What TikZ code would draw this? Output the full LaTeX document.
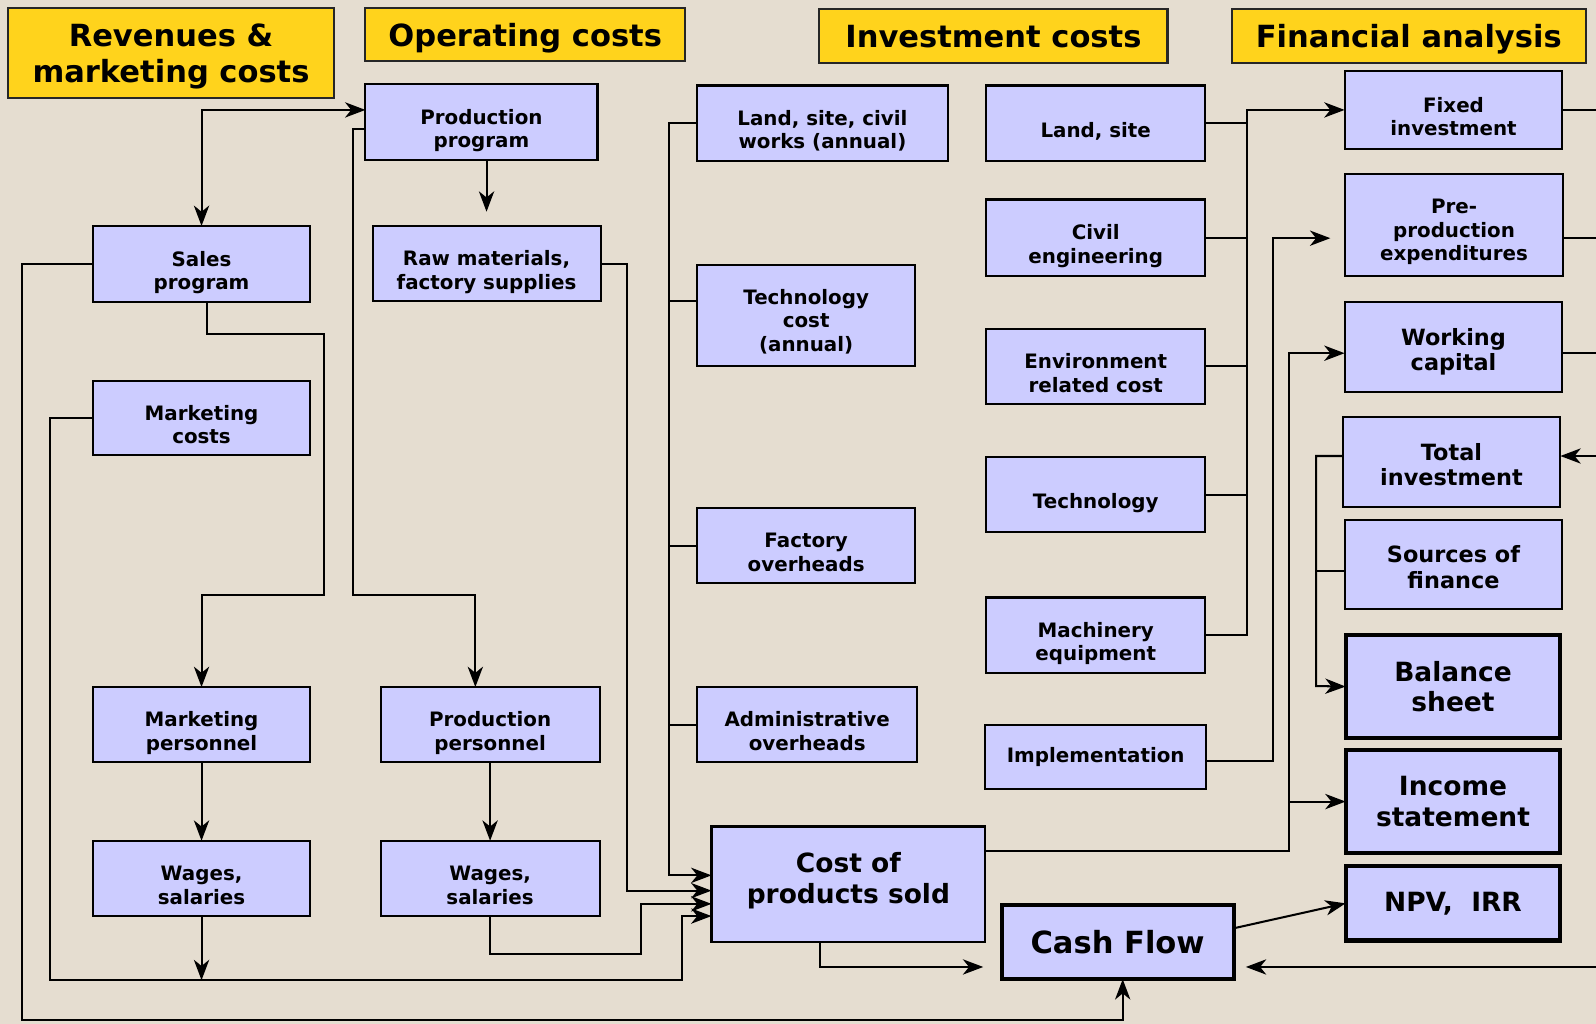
\documentclass[tikz,border=0pt]{standalone}
\usepackage{fontspec}
\setmainfont{DejaVu Sans}
\usetikzlibrary{arrows.meta}

\definecolor{paper}{RGB}{229,221,208}
\definecolor{lilac}{RGB}{204,204,255}
\definecolor{gold}{RGB}{255,211,28}

\tikzset{
  dims/.style 2 args={minimum width=#1pt,minimum height=#2pt},
  plainbox/.style={draw=black,fill=lilac,line width=2pt,inner sep=0pt,outer sep=0pt,align=center,
    font=\fontsize{19.5}{23}\selectfont\bfseries},
  box/.style={plainbox,text height=55pt,text depth=4.6pt},
  oneline/.style={text height=32pt},
  threeline/.style={text height=75pt},
  wide/.style={plainbox,text height=51.5pt,text depth=5pt,font=\fontsize{22}{25}\selectfont\bfseries},
  heavy/.style={plainbox,line width=4pt,font=\fontsize{26}{30}\selectfont\bfseries},
  head/.style={draw=black!85,fill=gold,line width=2pt,inner sep=0pt,outer sep=0pt,align=center,
    text depth=0pt,font=\fontsize{30}{35}\selectfont\bfseries},
  wire/.style={line width=2pt},
  flow/.style={wire,-{Stealth[length=20pt,width=15pt,inset=6pt]}},
  flowboth/.style={wire,{Stealth[length=20pt,width=15pt,inset=6pt]}-{Stealth[length=20pt,width=15pt,inset=6pt]}},
}

\begin{document}
\begin{tikzpicture}[x=1pt,y=-1pt]
  \fill[paper] (0,0) rectangle (1568,1006);
  \useasboundingbox (0,0) rectangle (1568,1006);

  % headings
  \node[head,dims={320}{88}] (hrev) at (168,52) {Revenues \&\\marketing costs};
  \node[head,dims={314}{52}] (hop) at (516,34) {Operating costs};
  \node[head,dims={342}{53}] (hinv) at (976,35.5) {Investment costs};
  \node[head,dims={348}{53}] (hfin) at (1384,35.5) {Financial analysis};

  % revenues and marketing
  \node[box,dims={214}{75}] (sales) at (198,259.5) {Sales\\program};
  \node[box,dims={214}{73}] (mktcost) at (198,410.5) {Marketing\\costs};
  \node[box,dims={214}{74}] (mktpers) at (198,712) {Marketing\\personnel};
  \node[box,dims={214}{74}] (wagesa) at (198,863) {Wages,\\salaries};

  % operating costs
  \node[box,dims={228}{74}] (prodprog) at (473,120) {Production\\program};
  \node[box,dims={224}{74}] (raw) at (478,259) {Raw materials,\\factory supplies};
  \node[box,dims={215}{74}] (prodpers) at (481.5,712) {Production\\personnel};
  \node[box,dims={215}{74}] (wagesb) at (481.5,863) {Wages,\\salaries};
  \node[box,dims={246}{74}] (landciv) at (808,121) {Land, site, civil\\works (annual)};
  \node[box,threeline,dims={214}{100}] (techcost) at (792,310) {Technology\\cost\\(annual)};
  \node[box,dims={214}{74}] (factory) at (792,536) {Factory\\overheads};
  \node[box,dims={216}{74}] (admin) at (793,712) {Administrative\\overheads};
  \node[plainbox,dims={269}{113},text depth=12pt,font=\fontsize{26}{30}\selectfont\bfseries] (cost) at (833.5,868.5) {Cost of\\products sold};

  % investment costs
  \node[box,oneline,dims={215}{74}] (landsite) at (1076.5,121) {Land, site};
  \node[box,dims={215}{75}] (civil) at (1076.5,233.5) {Civil\\engineering};
  \node[box,dims={215}{74}] (env) at (1076.5,360) {Environment\\related cost};
  \node[box,oneline,dims={215}{74}] (tech) at (1076.5,486) {Technology};
  \node[box,dims={215}{74}] (mach) at (1076.5,624) {Machinery\\equipment};
  \node[plainbox,dims={217}{63}] (impl) at (1076.5,743.5) {Implementation};
  \node[heavy,dims={228}{73},font=\fontsize{30}{34}\selectfont\bfseries] (cash) at (1098,925.5) {Cash Flow};

  % financial analysis
  \node[box,dims={214}{76}] (fixed) at (1428,108) {Fixed\\investment};
  \node[box,threeline,dims={215}{100}] (pre) at (1428.5,221) {Pre-\\production\\expenditures};
  \node[wide,dims={214}{88}] (working) at (1428,341) {Working\\capital};
  \node[wide,dims={214}{88}] (totinv) at (1426,454) {Total\\investment};
  \node[wide,dims={214}{87}] (srcfin) at (1428,554.5) {Sources of\\finance};
  \node[heavy,dims={211}{101}] (balance) at (1427.5,674.5) {Balance\\sheet};
  \node[heavy,dims={211}{101}] (income) at (1427.5,787.5) {Income\\statement};
  \node[heavy,dims={211}{73}] (npv) at (1427.5,887.5) {NPV,~~IRR};

  % routing points
  \coordinate (pj) at (347,585);
  \coordinate (sj1) at (318,328);
  \coordinate (sj2) at (318,585);
  \coordinate (sl) at (22,1002);
  \coordinate (ml1) at (49,963);
  \coordinate (ml2) at (670,900);
  \coordinate (wj) at (630,937);
  \coordinate (rj) at (616,875);
  \coordinate (bus3) at (657,860);
  \coordinate (bus4) at (1225,108);
  \coordinate (bus5) at (1251,234);
  \coordinate (bus6) at (1266,347);
  \coordinate (bus7) at (1293,674);
  \coordinate (ea) at (1568,448);
  \coordinate (eb) at (1568,950);

  % left part
  \draw[flowboth] (sales.north) |- ([yshift=12pt]prodprog.west);
  \draw[flow,shorten >=14pt] (raw.north |- prodprog.south) -- (raw.north);
  \draw[flow] ([yshift=-7pt]prodprog.west) -| (pj) -| ([xshift=-14.5pt]prodpers.north);
  \draw[flow] ([xshift=5pt]sales.south) |- (sj1) -- (sj2) -| (mktpers.north);
  \draw[flow] (sales.west) -| (sl) -| ([xshift=5pt]cash.south);
  \draw[flow] (mktcost.west) -| (ml1) -| (ml2) -- (cost.west |- ml2);
  \draw[flow] (wagesa.south) -- (wagesa.south |- ml1);
  \draw[flow] (mktpers) -- (wagesa);
  \draw[flow] (prodpers) -- (wagesb);
  \draw[flow] (wagesb.south) |- (wj) |- ([yshift=-19.5pt]cost.west);
  \draw[flow] (raw.east) -| (rj) -- (cost.west |- rj);

  % operating cost bus
  \draw[flow] (landciv.west) -| (bus3) -- (cost.west |- bus3);
  \draw[wire] ([yshift=14pt]techcost.west) -- ++(-28,0);
  \draw[wire] (factory.west) -- (factory.west -| bus3);
  \draw[wire] (admin.west) -- (admin.west -| bus3);

  % investment bus
  \draw[flow] (mach.east) -| (bus4) -- (fixed.west);
  \draw[wire] (landsite.east) -- (landsite.east -| bus4);
  \draw[wire] (civil.east) -- (civil.east -| bus4);
  \draw[wire] (env.east) -- (env.east -| bus4);
  \draw[wire] (tech.east) -- (tech.east -| bus4);
  \draw[flow,shorten >=14pt] ([yshift=-4.5pt]impl.east) -| (bus5) -- (pre.west |- bus5);
  \draw[flow] ([yshift=32.5pt]cost.east) -| (bus6) -- (working.west |- bus6);
  \draw[flow] (bus6 |- income.west) -- (income.west);
  \draw[flow] ([yshift=6pt]totinv.west) -| (bus7) -- (balance.west);
  \draw[wire] ([yshift=-6.5pt]srcfin.west) -- ++(-28,0);

  % right edge and cash flow
  \draw[wire] (fixed.east) -- (fixed.east -| ea);
  \draw[wire] ([yshift=-13pt]pre.east) -- ++(32,0);
  \draw[wire] ([yshift=-6pt]working.east) -- ++(33,0);
  \draw[flow] (ea) -- (totinv.east |- ea);
  \draw[flow,shorten >=12pt] (eb) -- (cash.east |- eb);
  \draw[flow,shorten >=18pt] ([xshift=-27.5pt]cost.south) |- (cash.west |- eb);
  \draw[flow] ([yshift=13.5pt]cash.east) -- (npv.west);
\end{tikzpicture}
\end{document}
